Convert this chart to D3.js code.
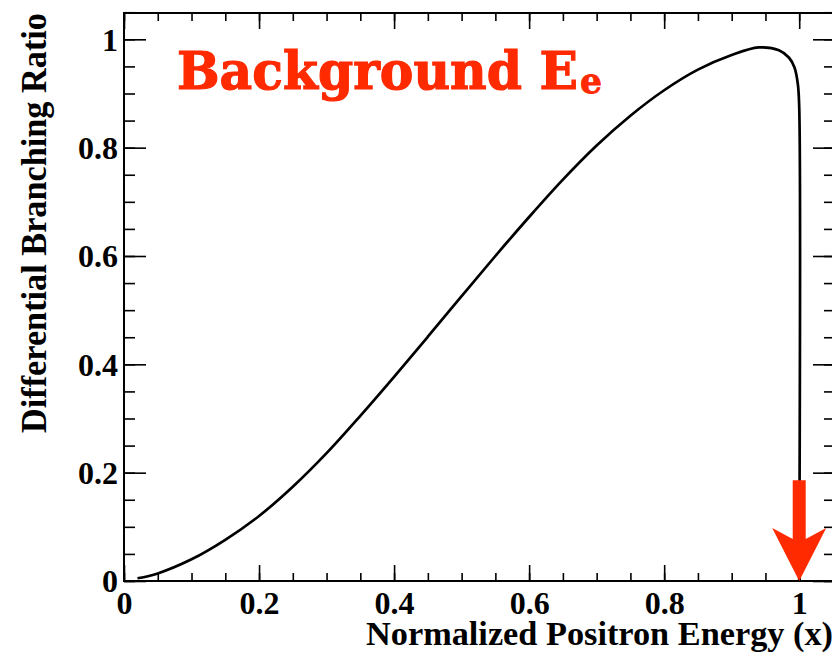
<!DOCTYPE html>
<html>
<head>
<meta charset="utf-8">
<script src="https://cdn.jsdelivr.net/npm/d3@7"></script>
<style>
  html, body { margin: 0; padding: 0; background: #fff; }
  svg { display: block; }
  .tick text { font-family: "Liberation Serif", "Times New Roman", serif; font-weight: bold; }
</style>
</head>
<body>
<svg id="chart"></svg>
<script>
// spectrum
const energy = [0.02, 0.05, 0.10, 0.15, 0.20, 0.25, 0.30, 0.35, 0.40, 0.45, 0.50, 0.55, 0.60, 0.65, 0.70, 0.75, 0.80, 0.85, 0.90, 0.94, 0.97, 0.985, 0.993, 0.998, 1.0, 1.0];
const ratio = [0.005, 0.014, 0.040, 0.076, 0.120, 0.174, 0.236, 0.305, 0.377, 0.451, 0.526, 0.600, 0.672, 0.741, 0.804, 0.859, 0.906, 0.944, 0.971, 0.985, 0.980, 0.966, 0.948, 0.917, 0.875, 0.0];

const xMajor = [0, 0.2, 0.4, 0.6, 0.8, 1];
const xMinor = d3.range(0, 22).map(i => i * 0.05);
const yMajor = [0, 0.2, 0.4, 0.6, 0.8, 1];
const yMinor = d3.range(0, 22).map(i => i * 0.05);
const tickLabels = ["0", "0.2", "0.4", "0.6", "0.8", "1"];

const titleMain = "Background E";
const titleSub = "e";
const xTitle = "Normalized Positron Energy (x)";
const yTitle = "Differential Branching Ratio";

// endpoint marker (x, from y, to y)
const cutX = 1.0;
const cutTop = 0.186;
const cutTip = 0.0;

const width = 832;
const height = 656;
const red = "#ff2a00";

const svg = d3.select("#chart")
              .attr("width", width)
              .attr("height", height);

const xScale = d3.scaleLinear().domain([0, 1.053]).range([124, 835]);
const yScale = d3.scaleLinear().domain([0, 1.0486]).range([581, 13]);

// bottom axis
svg.append("g")
   .attr("transform", `translate(0,${yScale(0)})`)
   .call(d3.axisBottom(xScale).tickValues(xMinor).tickSizeInner(-8).tickSizeOuter(0).tickFormat(""));
svg.append("g")
   .attr("class", "x-major")
   .attr("transform", `translate(0,${yScale(0)})`)
   .call(d3.axisBottom(xScale).tickValues(xMajor).tickSizeInner(-16).tickSizeOuter(0).tickPadding(10)
         .tickFormat((d, i) => tickLabels[i]));

// top axis
svg.append("g")
   .attr("transform", `translate(0,${yScale(1.0486)})`)
   .call(d3.axisTop(xScale).tickValues(xMinor).tickSizeInner(-8).tickSizeOuter(0).tickFormat(""));
svg.append("g")
   .attr("transform", `translate(0,${yScale(1.0486)})`)
   .call(d3.axisTop(xScale).tickValues(xMajor).tickSizeInner(-16).tickSizeOuter(0).tickFormat(""));

// left axis
svg.append("g")
   .attr("transform", `translate(${xScale(0)},0)`)
   .call(d3.axisLeft(yScale).tickValues(yMinor).tickSizeInner(-11).tickSizeOuter(0).tickFormat(""));
svg.append("g")
   .attr("class", "y-major")
   .attr("transform", `translate(${xScale(0)},0)`)
   .call(d3.axisLeft(yScale).tickValues(yMajor).tickSizeInner(-22).tickSizeOuter(0).tickPadding(6)
         .tickFormat((d, i) => tickLabels[i]));

// right axis
svg.append("g")
   .attr("transform", `translate(${xScale(1.053)},0)`)
   .call(d3.axisRight(yScale).tickValues(yMinor).tickSizeInner(-11).tickSizeOuter(0).tickFormat(""));
svg.append("g")
   .attr("transform", `translate(${xScale(1.053)},0)`)
   .call(d3.axisRight(yScale).tickValues(yMajor).tickSizeInner(-22).tickSizeOuter(0).tickFormat(""));

svg.selectAll(".domain").remove();
svg.selectAll(".tick line").attr("stroke", "#000").attr("stroke-width", 1.6);
svg.selectAll(".tick text").attr("fill", "#000").style("font-size", "32px");
svg.selectAll(".x-major .tick text").attr("dy", "0.72em");
svg.selectAll(".y-major .tick text").attr("dy", "0.34em");

// frame
svg.append("rect")
   .attr("x", xScale(0))
   .attr("y", yScale(1.0486))
   .attr("width", xScale(1.053) - xScale(0))
   .attr("height", yScale(0) - yScale(1.0486))
   .attr("fill", "none")
   .attr("stroke", "#000")
   .attr("stroke-width", 2);

// spectrum
const points = energy.map((e, i) => [e, ratio[i]]);
const line = d3.line()
               .x(d => xScale(d[0]))
               .y(d => yScale(d[1]))
               .curve(d3.curveCatmullRom.alpha(0.5));

svg.append("path")
   .datum(points)
   .attr("d", line)
   .attr("fill", "none")
   .attr("stroke", "#000")
   .attr("stroke-width", 2.7)
   .attr("stroke-linejoin", "round");

// red arrow at the endpoint
const ax = xScale(cutX);
const aTop = yScale(cutTop);
const aTip = yScale(cutTip);
const shaft = 6.5, head = 27, headH = 53, notch = 11;
const arrowPts = [
    [ax - shaft, aTop], [ax + shaft, aTop],
    [ax + shaft, aTip - headH + notch], [ax + head, aTip - headH],
    [ax, aTip],
    [ax - head, aTip - headH], [ax - shaft, aTip - headH + notch]
];
svg.append("polygon")
   .attr("points", arrowPts.map(p => p.join(",")).join(" "))
   .attr("fill", red);

// title
svg.append("text")
   .attr("x", 177)
   .attr("y", 89)
   .attr("textLength", 401)
   .attr("lengthAdjust", "spacingAndGlyphs")
   .style("font-family", "'DejaVu Serif', serif")
   .style("font-weight", "bold")
   .style("font-size", "53px")
   .attr("fill", red)
   .attr("stroke", red)
   .attr("stroke-width", 1.2)
   .text(titleMain);
svg.append("text")
   .attr("x", 580)
   .attr("y", 93)
   .attr("textLength", 22)
   .attr("lengthAdjust", "spacingAndGlyphs")
   .style("font-family", "'DejaVu Serif', serif")
   .style("font-weight", "bold")
   .style("font-size", "36px")
   .attr("fill", red)
   .attr("stroke", red)
   .attr("stroke-width", 0.8)
   .text(titleSub);

// axis titles
svg.append("text")
   .attr("x", 833)
   .attr("y", 645)
   .attr("text-anchor", "end")
   .attr("textLength", 467)
   .attr("lengthAdjust", "spacingAndGlyphs")
   .style("font-family", "'Liberation Serif', serif")
   .style("font-weight", "bold")
   .style("font-size", "34px")
   .text(xTitle);

svg.append("text")
   .attr("transform", "translate(46,13) rotate(-90)")
   .attr("text-anchor", "end")
   .attr("textLength", 420)
   .attr("lengthAdjust", "spacingAndGlyphs")
   .style("font-family", "'Liberation Serif', serif")
   .style("font-weight", "bold")
   .style("font-size", "35px")
   .text(yTitle);
</script>
</body>
</html>
